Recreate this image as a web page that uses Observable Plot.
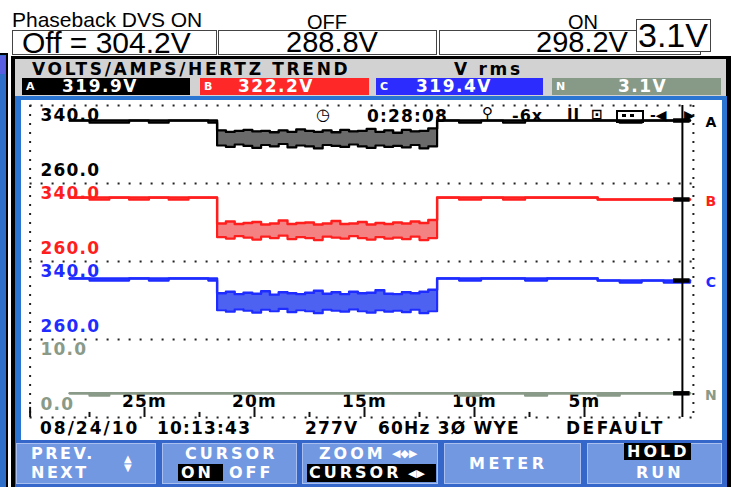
<!DOCTYPE html>
<html><head><meta charset="utf-8">
<script src="https://cdn.jsdelivr.net/npm/d3@7"></script>
<script src="https://cdn.jsdelivr.net/npm/@observablehq/plot@0.6"></script>
<style>
body{margin:0;width:732px;height:487px;overflow:hidden;background:#fff;position:relative;}
.a{position:absolute;}
.t{position:absolute;font-family:"Liberation Sans",Arial,sans-serif;line-height:0.8;white-space:nowrap;color:#000;}
.px{position:absolute;font-family:"DejaVu Sans",sans-serif;font-weight:bold;line-height:1;white-space:nowrap;}
.box{position:absolute;border:1px solid #444;box-sizing:border-box;background:#fff;}
.btn{position:absolute;background:#7398e2;border:1px solid #a9bff0;box-sizing:border-box;}
.w{color:#fff;}
.inv{position:absolute;background:#000;}
</style></head><body>
<!-- window strip at left -->
<div class="a" style="left:0;top:53px;width:8px;height:434px;background:#000"></div>
<div class="a" style="left:0;top:55px;width:6px;height:432px;background:#2f6fc9"></div>
<div class="a" style="left:0;top:56px;width:5px;height:18px;background:#5a5ee0"></div>

<!-- top annotations -->
<div class="t" style="left:12px;top:12px;font-size:21px">Phaseback DVS ON</div>
<div class="t" style="left:307px;top:14px;font-size:20px">OFF</div>
<div class="t" style="left:568px;top:14px;font-size:20px">ON</div>
<div class="box" style="left:12px;top:30px;width:205px;height:25px"></div>
<div class="box" style="left:218px;top:30px;width:219px;height:25px"></div>
<div class="box" style="left:439px;top:30px;width:262px;height:25px"></div>
<div class="t" style="left:22px;top:31px;font-size:30px">Off = 304.2V</div>
<div class="t" style="left:286px;top:31px;font-size:29px">288.8V</div>
<div class="t" style="left:536px;top:31px;font-size:29px">298.2V</div>
<div class="box" style="left:636px;top:19px;width:75px;height:33px"></div>
<div class="t" style="left:638px;top:22px;font-size:34px">3.1V</div>

<!-- instrument frame -->
<div class="a" style="left:11px;top:56px;width:720px;height:431px;background:#000"></div>
<div class="a" style="left:15px;top:59px;width:711px;height:37px;background:#d2d2d2"></div>
<div class="px" style="left:32px;top:61px;font-size:17px;letter-spacing:2.7px">VOLTS/AMPS/HERTZ TREND</div>
<div class="px" style="left:454px;top:61px;font-size:17px;letter-spacing:2.7px">V rms</div>
<div id="readouts"></div>
<div class="a" style="left:15px;top:96px;width:712px;height:344px;background:#2a74d2"></div>
<div id="chart" class="a" style="left:21px;top:100px;width:701px;height:340px;background:#fff"></div>

<!-- status line overlays -->
<div id="status"></div>

<!-- bottom info row -->
<div class="px" style="left:40px;top:420px;font-size:17px;letter-spacing:2px">08/24/10</div>
<div class="px" style="left:157px;top:420px;font-size:17px;letter-spacing:1.2px">10:13:43</div>
<div class="px" style="left:305px;top:420px;font-size:17px;letter-spacing:1.2px">277V</div>
<div class="px" style="left:378px;top:420px;font-size:17px;letter-spacing:1.2px">60Hz 3Ø WYE</div>
<div class="px" style="left:566px;top:420px;font-size:17px;letter-spacing:2.5px">DEFAULT</div>

<!-- soft keys -->
<div class="a" style="left:15px;top:440px;width:712px;height:47px;background:#3566c9"></div>
<div id="keys"></div>

<script>
// ---------------- data ----------------
const channels = ["A", "B", "C", "N"];
const readouts = ["319.9V", "322.2V", "319.4V", "3.1V"];
const rangeLo = [260, 260, 260, 0];
const rangeHi = [340, 340, 340, 10];
const minorTicks = [27.5, 22.5, 17.5, 12.5, 7.5, 2.5];
const majorTicks = [25, 20, 15, 10, 5];
const cursorAt = 0.55;
const elapsed = "0:28:08";

// minutes before the cursor end (ON, OFF, ON)
const minutesAgo = [
  28.4, 27.5, 26.6, 25.7, 24.8, 23.9, 23.0, 22.1,
  21.7, 21.3, 20.9, 20.5, 20.1, 19.7, 19.3, 18.9, 18.5, 18.1, 17.7, 17.3, 16.9,
  16.5, 16.1, 15.7, 15.3, 14.9, 14.5, 14.1, 13.7, 13.3, 12.9, 12.5, 12.1,
  11.7, 10.7, 9.7, 8.7, 7.7, 6.7, 5.7, 4.4, 3.4, 2.4, 1.4, 0.2];

const aMax = [
  324.6, 324.6, 324.6, 324.6, 324.6, 324.6, 324.6, 324.6,
  314.5, 313.0, 314.0, 315.0, 313.5, 314.0, 312.5, 314.5, 313.0, 315.5, 314.0, 313.0, 314.5,
  312.5, 315.0, 313.5, 314.0, 316.0, 313.0, 314.5, 312.0, 315.0, 313.5, 314.0, 316.5,
  324.6, 324.6, 324.6, 324.6, 324.6, 324.6, 324.6, 324.6, 324.6, 324.6, 324.6, 324.6];
const aMin = [
  324.6, 322.4, 322.4, 324.6, 322.4, 324.6, 324.6, 322.4,
  299.0, 297.5, 300.0, 298.5, 296.5, 299.5, 298.0, 300.5, 297.0, 299.0, 298.0, 296.0, 299.5,
  298.5, 297.5, 300.0, 298.0, 296.5, 299.0, 297.5, 298.5, 297.0, 299.5, 296.0, 298.0,
  324.6, 322.4, 324.6, 322.4, 324.6, 324.6, 324.6, 324.6, 322.4, 324.6, 324.6, 324.6];

const bMax = [
  325.6, 325.6, 325.6, 325.6, 325.6, 325.6, 325.6, 325.6,
  299.0, 301.0, 298.5, 299.5, 300.5, 298.0, 299.0, 302.0, 298.5, 299.5, 300.0, 298.0, 299.0,
  301.5, 298.5, 299.0, 300.5, 298.0, 299.5, 298.5, 300.0, 299.0, 301.0, 299.5, 302.5,
  325.6, 325.6, 325.6, 325.6, 325.6, 325.6, 325.6, 323.6, 323.6, 323.6, 323.6, 323.6];
const bMin = [
  325.6, 323.4, 325.6, 323.4, 325.6, 323.4, 325.6, 325.6,
  285.0, 283.5, 286.0, 284.5, 282.5, 285.5, 284.0, 286.5, 283.0, 285.0, 284.0, 282.0, 285.5,
  284.5, 283.5, 286.0, 284.0, 282.5, 285.0, 283.5, 284.5, 283.0, 285.5, 282.0, 284.0,
  325.6, 323.4, 325.6, 323.4, 325.6, 325.6, 325.6, 323.6, 323.6, 323.6, 323.6, 323.6];

const cMax = [
  322.6, 322.6, 322.6, 322.6, 322.6, 322.6, 322.6, 322.6,
  307.5, 309.0, 306.5, 308.0, 307.0, 309.5, 306.0, 308.5, 307.5, 306.5, 308.0, 310.0, 307.0,
  308.5, 306.5, 309.0, 307.5, 308.0, 310.5, 307.0, 306.5, 308.5, 307.5, 309.0, 311.0,
  322.6, 322.6, 322.6, 322.6, 322.6, 322.6, 322.6, 320.5, 320.5, 320.5, 320.5, 320.5];
const cMin = [
  322.6, 320.4, 320.4, 322.6, 320.4, 322.6, 322.6, 320.4,
  290.0, 288.5, 291.0, 289.5, 287.5, 290.5, 289.0, 291.5, 288.0, 290.0, 289.0, 287.0, 290.5,
  289.5, 288.5, 291.0, 289.0, 287.5, 290.0, 288.5, 289.5, 288.0, 290.5, 287.0, 289.0,
  322.6, 320.4, 322.6, 322.6, 320.4, 322.6, 322.6, 320.5, 318.4, 320.5, 318.4, 320.5];

const nMax = [
  3.1, 3.1, 3.1, 3.1, 3.1, 3.1, 3.1, 3.1,
  3.1, 3.1, 3.1, 3.1, 3.1, 3.1, 3.1, 3.1, 3.1, 3.1, 3.1, 3.1, 3.1,
  3.1, 3.1, 3.1, 3.1, 3.1, 3.1, 3.1, 3.1, 3.1, 3.1, 3.1, 3.1,
  3.1, 3.1, 3.1, 3.1, 3.1, 3.1, 3.1, 3.1, 3.1, 3.1, 3.1, 3.1];
const nMin = [
  3.1, 2.8, 3.1, 3.1, 3.1, 3.1, 3.1, 3.1,
  3.1, 3.1, 3.1, 3.1, 3.1, 3.1, 3.1, 3.1, 3.1, 3.1, 3.1, 3.1, 3.1,
  3.1, 3.1, 3.1, 3.1, 3.1, 3.1, 3.1, 3.1, 3.1, 3.1, 3.1, 3.1,
  3.1, 2.8, 3.1, 3.1, 2.8, 3.1, 3.1, 2.8, 3.1, 3.1, 3.1, 3.1];

// ---------------- styling ----------------
const lineColor = {A: "#000000", B: "#ff1e1e", C: "#1e2cff", N: "#8a9a88"};
const fillColor = {A: "#6a6a6a", B: "#f48282", C: "#4e62f2", N: "#8a9a88"};
const boxColor = {A: "#000000", B: "#ff2828", C: "#2c2cff", N: "#879a87"};

// band coordinate: channel k occupies [k, k+1], top = range max
const band = (k, v) => k + (rangeHi[k] - v) / (rangeHi[k] - rangeLo[k]);
const series = [[aMin, aMax], [bMin, bMax], [cMin, cMax], [nMin, nMax]];

const marks = [];
// dotted grid
marks.push(Plot.ruleY([0, 1, 2, 3, 4], {x1: 30.2, x2: 0.05, stroke: "#222", strokeWidth: 2, strokeDasharray: "2,9"}));
marks.push(Plot.ruleX([30.2, 0.05], {y1: 0, y2: 4, stroke: "#222", strokeWidth: 2, strokeDasharray: "2,7"}));
// ticks
marks.push(Plot.ruleX(majorTicks.concat([30.2]), {y1: 3.87, y2: 4, stroke: "#111", strokeWidth: 2}));
marks.push(Plot.ruleX(minorTicks, {y1: 3.935, y2: 4, stroke: "#111", strokeWidth: 2}));
marks.push(Plot.text(majorTicks, {x: d => d, y: 3.79, text: d => `${d}m`, fill: "#000", fontWeight: "bold", fontSize: 17}));

series.forEach(([mn, mx], k) => {
  const ch = channels[k];
  const rows = minutesAgo.map((t, i) => ({t, lo: band(k, mn[i]), hi: band(k, mx[i])}));
  marks.push(Plot.areaY(rows, {x: "t", y1: "lo", y2: "hi", fill: fillColor[ch], curve: "step-after"}));
  marks.push(Plot.lineY(rows, {x: "t", y: "hi", stroke: lineColor[ch], strokeWidth: 2.4, curve: "step-after"}));
  marks.push(Plot.lineY(rows, {x: "t", y: "lo", stroke: lineColor[ch], strokeWidth: 2.2, curve: "step-after"}));
  const labels = [
    {y: k + 0.135, text: rangeHi[k].toFixed(1)},
    {y: k + 0.83, text: rangeLo[k].toFixed(1)}
  ];
  marks.push(Plot.text(labels, {x: 29.73, y: "y", text: "text", textAnchor: "start", fill: lineColor[ch], fontWeight: "bold", fontSize: 17}));
});

// cursor
const markers = channels.map((ch, k) => ({ch, y: band(k, series[k][1][series[k][1].length - 1])}));
marks.push(Plot.ruleX([cursorAt], {y1: 0, y2: 4, stroke: "#000", strokeWidth: 2}));
marks.push(Plot.ruleY(markers, {y: "y", x1: 0.95, x2: 0.2, stroke: "#000", strokeWidth: 4.5}));
marks.push(Plot.text(markers, {x: -0.77, y: "y", dy: 2, text: "ch", fill: d => lineColor[d.ch], fontWeight: "bold", fontSize: 14}));

const chart = Plot.plot({
  width: 701, height: 340,
  marginLeft: 13, marginRight: 28, marginTop: 5, marginBottom: 23,
  x: {domain: [30, 0], axis: null},
  y: {domain: [0, 4], reverse: true, axis: null},
  color: {type: "identity"},
  style: {background: "#fff", fontFamily: "DejaVu Sans, sans-serif", fontSize: "17px", letterSpacing: "1.2px", overflow: "visible"},
  marks
});
document.getElementById("chart").appendChild(chart);

// channel readout boxes
const boxPos = [[22, 168], [200, 169], [376, 167], [552, 169]];
const valLeft = [62, 238, 416, 618];
let html = "";
channels.forEach((ch, k) => {
  const [l, w] = boxPos[k];
  html += `<div class="a" style="left:${l}px;top:78px;width:${w}px;height:17px;background:${boxColor[ch]}"></div>`;
  html += `<div class="px w" style="left:${l + 4}px;top:81px;font-size:11px">${ch}</div>`;
  html += `<div class="px w" style="left:${valLeft[k]}px;top:78px;font-size:17px;letter-spacing:1.5px">${readouts[k]}</div>`;
});
document.getElementById("readouts").innerHTML = html;

// status line
document.getElementById("status").innerHTML = `
<div class="px" style="left:316px;top:107px;font-size:16px">◷</div>
<div class="px" style="left:367px;top:108px;font-size:17px;letter-spacing:1.2px">${elapsed}</div>
<div class="px" style="left:482px;top:106px;font-size:15px">⚲</div>
<div class="px" style="left:512px;top:108px;font-size:16px;letter-spacing:1px">-6x</div>
<div class="px" style="left:567px;top:108px;font-size:15px;letter-spacing:1px">II</div>
<div class="px" style="left:591px;top:107px;font-size:14px">⊡</div>
<div class="a" style="left:616px;top:110px;width:24px;height:9px;border:2px solid #000"></div>
<div class="a" style="left:622px;top:114px;width:4px;height:3px;background:#000"></div>
<div class="a" style="left:630px;top:114px;width:4px;height:3px;background:#000"></div>
<div class="px" style="left:650px;top:108px;font-size:14px">-◀</div>
<div class="px" style="left:684px;top:108px;font-size:14px">▶</div>`;

// soft keys
document.getElementById("keys").innerHTML = `
<div class="btn" style="left:16px;top:443px;width:140px;height:41px"></div>
<div class="btn" style="left:162px;top:443px;width:135px;height:41px"></div>
<div class="btn" style="left:302px;top:443px;width:136px;height:41px"></div>
<div class="btn" style="left:444px;top:443px;width:137px;height:41px"></div>
<div class="btn" style="left:587px;top:443px;width:135px;height:41px"></div>
<div class="px w" style="left:31px;top:446px;font-size:16px;letter-spacing:2.5px">PREV.</div>
<div class="px w" style="left:31px;top:465px;font-size:16px;letter-spacing:2.5px">NEXT</div>
<div class="px w" style="left:124px;top:454px;font-size:10px">▲</div>
<div class="px w" style="left:124px;top:463px;font-size:10px">▼</div>
<div class="px w" style="left:185px;top:446px;font-size:16px;letter-spacing:3px">CURSOR</div>
<div class="inv" style="left:178px;top:464px;width:45px;height:17px"></div>
<div class="px w" style="left:181px;top:465px;font-size:16px;letter-spacing:3px">ON</div>
<div class="px w" style="left:229px;top:465px;font-size:16px;letter-spacing:3px">OFF</div>
<div class="px w" style="left:319px;top:446px;font-size:16px;letter-spacing:3px">ZOOM</div>
<div class="px w" style="left:392px;top:448px;font-size:11px">◀◆▶</div>
<div class="inv" style="left:307px;top:464px;width:129px;height:18px"></div>
<div class="px w" style="left:309px;top:465px;font-size:16px;letter-spacing:3px">CURSOR</div>
<div class="px w" style="left:408px;top:468px;font-size:11px">◀▶</div>
<div class="px w" style="left:469px;top:456px;font-size:16px;letter-spacing:3.5px">METER</div>
<div class="inv" style="left:624px;top:443px;width:67px;height:17px"></div>
<div class="px w" style="left:627px;top:444px;font-size:16px;letter-spacing:3px">HOLD</div>
<div class="px w" style="left:636px;top:465px;font-size:16px;letter-spacing:3px">RUN</div>`;
</script>
</body></html>
